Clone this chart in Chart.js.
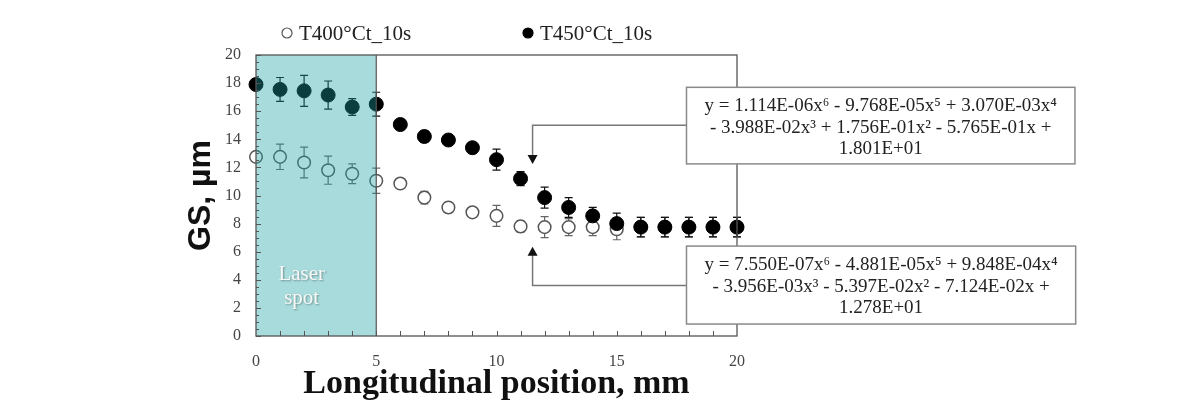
<!DOCTYPE html>
<html>
<head>
<meta charset="utf-8">
<script src="https://cdn.jsdelivr.net/npm/chart.js@4.4.1/dist/chart.umd.min.js"></script>
<style>
html, body { margin: 0; padding: 0; background: #fff; }
#wrap { width: 1192px; height: 420px; }
</style>
</head>
<body>
<div id="wrap"><canvas id="gs_chart" width="1192" height="420"></canvas></div>
<script>
// longitudinal position (mm)
var positions = [0, 1, 2, 3, 4, 5, 6, 7, 8, 9, 10, 11, 12, 13, 14, 15, 16, 17, 18, 19, 20];
// grain size (um) and error bars
var gs400 = [12.75, 12.75, 12.35, 11.8, 11.55, 11.05, 10.85, 9.85, 9.15, 8.8, 8.55, 7.8, 7.75, 7.75, 7.75, 7.6, 7.75, 7.75, 7.75, 7.75, 7.75];
var err400 = [0.3, 0.9, 1.1, 1.0, 0.7, 0.9, 0.3, 0.45, 0.3, 0.3, 0.75, 0.4, 0.75, 0.6, 0.6, 0.75, 0.7, 0.7, 0.7, 0.7, 0.7];
var gs450 = [17.9, 17.55, 17.45, 17.15, 16.3, 16.5, 15.05, 14.2, 13.95, 13.4, 12.55, 11.2, 9.85, 9.15, 8.55, 8.0, 7.75, 7.75, 7.75, 7.75, 7.75];
var err450 = [0.3, 0.85, 1.1, 1.0, 0.6, 0.85, 0.35, 0.4, 0.35, 0.35, 0.75, 0.5, 0.75, 0.7, 0.6, 0.75, 0.7, 0.7, 0.7, 0.7, 0.7];
var xTicks = [0, 5, 10, 15, 20];
var yTicks = [0, 2, 4, 6, 8, 10, 12, 14, 16, 18, 20];
var laserSpot = [0, 5];
var fit450 = ['y = 1.114E-06x\u2076 - 9.768E-05x\u2075 + 3.070E-03x\u2074', '- 3.988E-02x\u00b3 + 1.756E-01x\u00b2 - 5.765E-01x +', '1.801E+01'];
var fit400 = ['y = 7.550E-07x\u2076 - 4.881E-05x\u2075 + 9.848E-04x\u2074', '- 3.956E-03x\u00b3 - 5.397E-02x\u00b2 - 7.124E-02x +', '1.278E+01'];

var serif = '"Liberation Serif", "Times New Roman", serif';

function toPoints(xs, ys) {
    return xs.map(function (x, i) { return { x: x, y: ys[i] }; });
}

function drawErrors(ctx, xs, ys, errs, sx, sy, color) {
    ctx.save();
    ctx.strokeStyle = color;
    ctx.lineWidth = 1.2;
    for (var i = 0; i < xs.length; i++) {
        var px = sx.getPixelForValue(xs[i]);
        var top = sy.getPixelForValue(ys[i] + errs[i]);
        var bot = sy.getPixelForValue(ys[i] - errs[i]);
        ctx.beginPath();
        ctx.moveTo(px, top); ctx.lineTo(px, bot);
        ctx.moveTo(px - 4, top); ctx.lineTo(px + 4, top);
        ctx.moveTo(px - 4, bot); ctx.lineTo(px + 4, bot);
        ctx.stroke();
    }
    ctx.restore();
}

function eqBox(ctx, lines, left, top, bottom) {
    ctx.save();
    ctx.font = '19px ' + serif;
    var w = 0;
    lines.forEach(function (l) { w = Math.max(w, ctx.measureText(l).width); });
    var width = w + 36;
    ctx.fillStyle = '#fff';
    ctx.fillRect(left, top, width, bottom - top);
    ctx.strokeStyle = '#8a8a8a';
    ctx.lineWidth = 1.5;
    ctx.strokeRect(left, top, width, bottom - top);
    ctx.fillStyle = '#222';
    ctx.textAlign = 'center';
    ctx.textBaseline = 'alphabetic';
    lines.forEach(function (l, i) {
        ctx.fillText(l, left + width / 2, top + 24 + i * 21.5);
    });
    ctx.restore();
}

function triangle(ctx, x, tipY, dir) {
    ctx.beginPath();
    ctx.moveTo(x, tipY);
    ctx.lineTo(x - 5, tipY - dir * 9);
    ctx.lineTo(x + 5, tipY - dir * 9);
    ctx.closePath();
    ctx.fill();
}

var extras = {
    id: 'gsExtras',
    beforeDatasetsDraw: function (chart) {
        var ctx = chart.ctx, sx = chart.scales.x, sy = chart.scales.y;
        drawErrors(ctx, positions, gs400, err400, sx, sy, '#666');
        drawErrors(ctx, positions, gs450, err450, sx, sy, '#111');
    },
    afterDatasetsDraw: function (chart) {
        var ctx = chart.ctx, sx = chart.scales.x, sy = chart.scales.y, a = chart.chartArea;
        ctx.save();

        // laser spot band, see-through over the markers
        var l0 = sx.getPixelForValue(laserSpot[0]), l1 = sx.getPixelForValue(laserSpot[1]);
        ctx.fillStyle = 'rgba(26, 160, 160, 0.38)';
        ctx.fillRect(l0, a.top, l1 - l0, a.bottom - a.top);
        ctx.strokeStyle = '#555';
        ctx.lineWidth = 1.2;
        ctx.beginPath();
        ctx.moveTo(l1, a.top); ctx.lineTo(l1, a.bottom);
        ctx.stroke();

        ctx.save();
        ctx.font = '21px ' + serif;
        ctx.fillStyle = '#f8f8f8';
        ctx.textAlign = 'center';
        ctx.shadowColor = 'rgba(0,0,0,0.35)';
        ctx.shadowOffsetX = 1; ctx.shadowOffsetY = 1; ctx.shadowBlur = 2;
        var lx = sx.getPixelForValue(1.9);
        ctx.fillText('Laser', lx, sy.getPixelForValue(3.98));
        ctx.fillText('spot', lx, sy.getPixelForValue(2.28));
        ctx.restore();

        // frame and inward ticks
        ctx.strokeStyle = '#555';
        ctx.lineWidth = 1.3;
        ctx.strokeRect(a.left, a.top, a.right - a.left, a.bottom - a.top);
        ctx.lineWidth = 1;
        ctx.beginPath();
        for (var v = 0; v <= 20; v += 0.5) {
            var py = Math.round(sy.getPixelForValue(v)) + 0.5;
            var len = (v % 2 === 0) ? 5 : 3;
            ctx.moveTo(a.left, py); ctx.lineTo(a.left + len, py);
        }
        for (var t = 1; t < 20; t++) {
            var px = Math.round(sx.getPixelForValue(t)) + 0.5;
            ctx.moveTo(px, a.bottom); ctx.lineTo(px, a.bottom - 5);
        }
        ctx.stroke();

        // leader lines and arrows
        var ax = sx.getPixelForValue(11.5);
        var boxLeft = sx.getPixelForValue(17.9);
        ctx.strokeStyle = '#777';
        ctx.lineWidth = 1.5;
        ctx.fillStyle = '#111';
        var up1 = sy.getPixelForValue(15.0), tip1 = sy.getPixelForValue(12.25);
        ctx.beginPath();
        ctx.moveTo(boxLeft, up1); ctx.lineTo(ax, up1); ctx.lineTo(ax, tip1 - 8);
        ctx.stroke();
        triangle(ctx, ax, tip1, 1);
        var lo2 = sy.getPixelForValue(3.6), tip2 = sy.getPixelForValue(6.35);
        ctx.beginPath();
        ctx.moveTo(boxLeft, lo2); ctx.lineTo(ax, lo2); ctx.lineTo(ax, tip2 + 8);
        ctx.stroke();
        triangle(ctx, ax, tip2, -1);

        eqBox(ctx, fit450, boxLeft, sy.getPixelForValue(17.7), sy.getPixelForValue(12.25));
        eqBox(ctx, fit400, boxLeft, sy.getPixelForValue(6.4), sy.getPixelForValue(0.85));

        // legend
        var ds = chart.data.datasets;
        ctx.font = '21px ' + serif;
        ctx.textBaseline = 'alphabetic';
        ctx.textAlign = 'left';
        var ly = 33, lxs = [287, 528];
        [1, 0].forEach(function (k, i) {
            ctx.beginPath();
            ctx.arc(lxs[i], ly, 5, 0, Math.PI * 2);
            ctx.fillStyle = ds[k].backgroundColor;
            ctx.fill();
            ctx.strokeStyle = ds[k].borderColor;
            ctx.lineWidth = 1.2;
            ctx.stroke();
            ctx.fillStyle = '#222';
            ctx.fillText(ds[k].label, lxs[i] + 12, ly + 7);
        });
        ctx.restore();
    }
};

var ctx = document.getElementById('gs_chart').getContext('2d');
var chart = new Chart(ctx, {
    type: 'scatter',
    data: {
        datasets: [{
            label: 'T450\u00b0Ct_10s',
            data: toPoints(positions, gs450),
            backgroundColor: '#000',
            borderColor: '#000',
            borderWidth: 1,
            pointRadius: 7,
            clip: false,
            order: 0
        }, {
            label: 'T400\u00b0Ct_10s',
            data: toPoints(positions, gs400),
            backgroundColor: '#fff',
            borderColor: '#555',
            borderWidth: 1.5,
            pointRadius: 6.3,
            clip: false,
            order: 1
        }]
    },
    options: {
        responsive: false,
        animation: false,
        events: [],
        layout: { padding: { left: 182, top: 55, right: 455, bottom: 0 } },
        plugins: { legend: { display: false }, tooltip: { enabled: false } },
        scales: {
            x: {
                type: 'linear', min: 0, max: 20,
                afterFit: function (s) { s.height = 84; },
                afterBuildTicks: function (s) { s.ticks = xTicks.map(function (v) { return { value: v }; }); },
                grid: { display: false, drawTicks: false },
                border: { display: false },
                ticks: { padding: 16, color: '#444', font: { family: serif, size: 16 } },
                title: {
                    display: true, text: 'Longitudinal position, mm', color: '#111',
                    font: { family: serif, size: 34, weight: 'bold' }, padding: { top: 15, bottom: 15 }
                }
            },
            y: {
                type: 'linear', min: 0, max: 20,
                afterFit: function (s) { s.width = 74; },
                afterBuildTicks: function (s) { s.ticks = yTicks.map(function (v) { return { value: v }; }); },
                grid: { display: false, drawTicks: false },
                border: { display: false },
                ticks: { padding: 15, color: '#444', font: { family: serif, size: 16 } },
                title: {
                    display: true, text: 'GS, \u00b5m', color: '#111',
                    font: { family: '"Liberation Sans", Arial, sans-serif', size: 32, weight: 'bold' }, padding: { top: 0, bottom: 0 }
                }
            }
        }
    },
    plugins: [extras]
});
</script>
</body>
</html>
